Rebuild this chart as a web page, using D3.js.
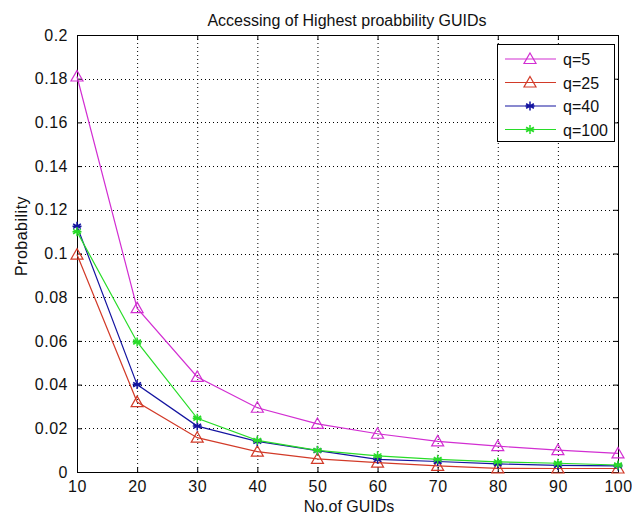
<!DOCTYPE html>
<html>
<head>
<meta charset="utf-8">
<script src="https://cdn.jsdelivr.net/npm/d3@7"></script>
<style>
  body { margin: 0; background: #fff; }
  svg { display: block; font-family: "Liberation Sans", Arial, sans-serif; }
</style>
</head>
<body>
<svg id="chart" width="632" height="518"></svg>
<script>
// data
const guids = [10, 20, 30, 40, 50, 60, 70, 80, 90, 100];
const q5 = [0.181, 0.075, 0.0435, 0.0294, 0.022, 0.0175, 0.014, 0.0118, 0.0100, 0.0085];
const q25 = [0.0995, 0.032, 0.0157, 0.0093, 0.006, 0.0043, 0.0028, 0.0017, 0.0016, 0.0016];
const q40 = [0.1125, 0.040, 0.021, 0.014, 0.0098, 0.0058, 0.0048, 0.0037, 0.0030, 0.0028];
const q100 = [0.110, 0.0595, 0.0246, 0.0145, 0.0099, 0.0074, 0.0058, 0.0046, 0.0040, 0.0032];
const yTicks = [0, 0.02, 0.04, 0.06, 0.08, 0.1, 0.12, 0.14, 0.16, 0.18, 0.2];
const xTicks = guids;

const series = [
  { name: "q=5", values: q5, color: "#d22ed2", marker: "triangle" },
  { name: "q=25", values: q25, color: "#d23a28", marker: "triangle" },
  { name: "q=40", values: q40, color: "#1414a0", marker: "star" },
  { name: "q=100", values: q100, color: "#28dc28", marker: "star" }
];

const svg = d3.select("#chart");
const plotL = 77, plotR = 618, plotT = 35, plotB = 472;

const x = d3.scaleLinear().domain([10, 100]).range([plotL, plotR]);
const y = d3.scaleLinear().domain([0, 0.2]).range([plotB, plotT]);

// grid
const grid = svg.append("g").attr("stroke", "#000").attr("stroke-width", 1)
  .attr("stroke-dasharray", "1,3");
xTicks.slice(1, -1).forEach((t) => {
  grid.append("line").attr("x1", x(t) + 0.5).attr("x2", x(t) + 0.5)
    .attr("y1", plotT).attr("y2", plotB);
});
yTicks.slice(1, -1).forEach((t) => {
  grid.append("line").attr("y1", Math.round(y(t)) + 0.5).attr("y2", Math.round(y(t)) + 0.5)
    .attr("x1", plotL).attr("x2", plotR);
});

// axes (ticks inward on all four sides)
const fmtY = (d) => (d === 0 ? "0" : String(+d.toFixed(2)));
const axL = svg.append("g").attr("transform", `translate(${plotL},0)`)
  .call(d3.axisLeft(y).tickValues(yTicks).tickSize(-5).tickPadding(9).tickFormat(fmtY));
const axR = svg.append("g").attr("transform", `translate(${plotR},0)`)
  .call(d3.axisRight(y).tickValues(yTicks).tickSize(-5).tickFormat(""));
const axB = svg.append("g").attr("transform", `translate(0,${plotB})`)
  .call(d3.axisBottom(x).tickValues(xTicks).tickSize(-5).tickPadding(9));
const axT = svg.append("g").attr("transform", `translate(0,${plotT})`)
  .call(d3.axisTop(x).tickValues(xTicks).tickSize(-5).tickFormat(""));
[axL, axR, axB, axT].forEach((a) => {
  a.selectAll("path, line").attr("stroke", "#000");
  a.selectAll("text").attr("fill", "#111").style("font-size", "16px")
    .style("letter-spacing", "0.5px")
    .style("font-family", "'Liberation Sans', Arial, sans-serif");
});

// markers
function drawMarker(g, type, cx, cy, color) {
  if (type === "triangle") {
    const s = 6;
    g.append("path")
      .attr("d", `M${cx},${cy - s} L${cx + s},${cy + s * 0.75} L${cx - s},${cy + s * 0.75} Z`)
      .attr("fill", "none").attr("stroke", color).attr("stroke-width", 1.2);
  } else {
    const s = 4.5;
    const d = [0, 60, 120].map((a) => {
      const r = (a * Math.PI) / 180 + Math.PI / 2;
      const dx = s * Math.cos(r), dy = s * Math.sin(r);
      return `M${cx - dx},${cy - dy} L${cx + dx},${cy + dy}`;
    }).join(" ") + ` M${cx - s},${cy} L${cx + s},${cy}`;
    g.append("path").attr("d", d).attr("stroke", color).attr("stroke-width", 1.5);
  }
}

const line = d3.line().x((d, i) => x(guids[i])).y((d) => y(d));
series.forEach((s) => {
  const g = svg.append("g");
  g.append("path").datum(s.values).attr("d", line)
    .attr("fill", "none").attr("stroke", s.color).attr("stroke-width", 1.2);
  s.values.forEach((v, i) => drawMarker(g, s.marker, x(guids[i]), y(v), s.color));
});

// title and labels
svg.append("text").attr("x", 347).attr("y", 26).attr("text-anchor", "middle")
  .style("font-size", "16px").attr("fill", "#111")
  .text("Accessing of Highest proabbility GUIDs");
svg.append("text").attr("x", 349).attr("y", 512).attr("text-anchor", "middle")
  .style("font-size", "16px").attr("fill", "#111").text("No.of GUIDs");
svg.append("text").attr("transform", "translate(27,236) rotate(-90)")
  .attr("text-anchor", "middle").style("font-size", "16px").style("letter-spacing", "0.5px")
  .attr("fill", "#111").text("Probability");

// legend
const lg = svg.append("g");
lg.append("rect").attr("x", 497.5).attr("y", 44.5).attr("width", 117).attr("height", 97)
  .attr("fill", "#fff").attr("stroke", "#000");
series.forEach((s, i) => {
  const ly = 59 + i * 23.5;
  lg.append("line").attr("x1", 505).attr("x2", 556).attr("y1", ly).attr("y2", ly)
    .attr("stroke", s.color).attr("stroke-width", 1.2);
  drawMarker(lg, s.marker, 530, ly, s.color);
  lg.append("text").attr("x", 563).attr("y", ly + 6).style("font-size", "16px")
    .attr("fill", "#111").text(s.name);
});
</script>
</body>
</html>
